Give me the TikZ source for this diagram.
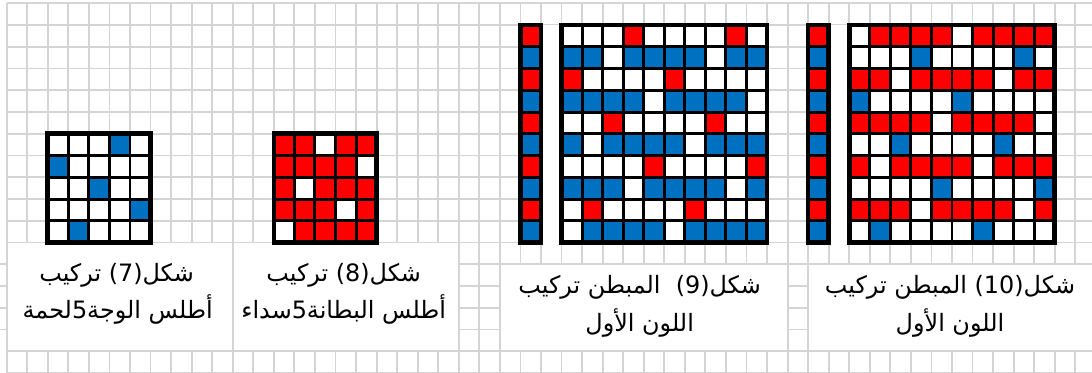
\documentclass[tikz,border=0pt]{standalone}
\usepackage{fontspec}
\usepackage{tikz}
\usepackage{xcolor}
\newfontfamily\arabicfont[Script=Arabic]{DejaVu Sans}
\TeXXeTstate=1
\definecolor{weavered}{HTML}{FF0000}
\definecolor{weaveblue}{HTML}{0070C0}
\definecolor{gridgray}{HTML}{D4D4D4}
\colorlet{c0}{white}
\colorlet{c1}{weaveblue}
\colorlet{c2}{weavered}

\begin{document}
\begin{tikzpicture}[x=0.51375cm,y=-0.54375cm,
  gridline/.style={draw=gridgray,line width=1.3pt},
  cell/.style={draw=black,line width=2.1pt},
  frame/.style={draw=black,line width=3.3pt},
  lab/.style={font=\arabicfont\fontsize{17}{20}\selectfont,anchor=base,inner sep=0pt}]
  \clip (-0.326,-0.1517) rectangle (52.8126,16.9517);
  \fill[white] (-0.326,-0.1517) rectangle (52.8126,16.9517);
  \foreach \k in {0,...,53} \draw[gridline] (\k,0) -- (\k,17);
  \foreach \j in {0,...,17} \draw[gridline] (0,\j) -- (53,\j);
  \draw[gridline,fill=white] (0,11) rectangle (11,16);
  \draw[gridline,fill=white] (11,11) rectangle (22,16);
  \draw[gridline,fill=white] (24,12) rectangle (38,16);
  \draw[gridline,fill=white] (39,12) rectangle (53,16);
  \foreach \j in {12,...,15} \draw[gridline] (-0.33,\j) -- (0,\j);
  \fill[white] (26,1) rectangle (27,11);
  \fill[white] (40,1) rectangle (41,11);

  \foreach \row [count=\j] in {{0,0,0,1,0},{1,0,0,0,0},{0,0,1,0,0},{0,0,0,0,1},{0,1,0,0,0}}
    \foreach \c [count=\i] in \row
      \draw[cell,fill=c\c] (1+\i,5+\j) rectangle ++(1,1);
  \draw[frame] (2,6) rectangle (7,11);

  \foreach \row [count=\j] in {{2,2,0,2,2},{2,2,2,2,0},{2,0,2,2,2},{2,2,2,0,2},{0,2,2,2,2}}
    \foreach \c [count=\i] in \row
      \draw[cell,fill=c\c] (12+\i,5+\j) rectangle ++(1,1);
  \draw[frame] (13,6) rectangle (18,11);

  \foreach \c [count=\j] in {2,1,2,1,2,1,2,1,2,1} {
    \draw[cell,fill=c\c] (25,\j) rectangle ++(1,1);
    \draw[cell,fill=c\c] (39,\j) rectangle ++(1,1);
  }
  \draw[frame] (25,1) rectangle (26,11);
  \draw[frame] (39,1) rectangle (40,11);

  \foreach \row [count=\j] in {{0,0,0,2,0,0,0,0,2,0},{1,1,0,1,1,1,1,0,1,1},
      {2,0,0,0,0,2,0,0,0,0},{1,1,1,1,0,1,1,1,1,0},{0,0,2,0,0,0,0,2,0,0},
      {1,0,1,1,1,1,0,1,1,1},{0,0,0,0,2,0,0,0,0,2},{1,1,1,0,1,1,1,1,0,1},
      {0,2,0,0,0,0,2,0,0,0},{0,1,1,1,1,0,1,1,1,1}}
    \foreach \c [count=\i] in \row
      \draw[cell,fill=c\c] (26+\i,\j) rectangle ++(1,1);
  \draw[frame] (27,1) rectangle (37,11);

  \foreach \row [count=\j] in {{0,2,2,2,2,0,2,2,2,2},{0,0,0,1,0,0,0,0,1,0},
      {2,2,0,2,2,2,2,0,2,2},{1,0,0,0,0,1,0,0,0,0},{2,2,2,2,0,2,2,2,2,0},
      {0,0,1,0,0,0,0,1,0,0},{2,0,2,2,2,2,0,2,2,2},{0,0,0,0,1,0,0,0,0,1},
      {2,2,2,0,2,2,2,2,0,2},{0,1,0,0,0,0,1,0,0,0}}
    \foreach \c [count=\i] in \row
      \draw[cell,fill=c\c] (40+\i,\j) rectangle ++(1,1);
  \draw[frame] (41,1) rectangle (51,11);

  \node[lab] (cap7a) at (5.35,12.77) {\beginR شكل(7) تركيب\endR};
  \node[lab] (cap7b) at (5.4,14.47) {\beginR أطلس الوجة5لحمة\endR};
  \node[lab] (cap8a) at (16.4,12.77) {\beginR شكل(8) تركيب\endR};
  \node[lab] (cap8b) at (16.4,14.47) {\beginR أطلس البطانة5سداء\endR};
  \node[lab] (cap9a) at (30.8,13.32) {\beginR شكل(9)~ المبطن تركيب\endR};
  \node[lab] (cap9b) at (30.8,15.07) {\beginR اللون الأول\endR};
  \node[lab] (cap10a) at (45.9,13.32) {\beginR شكل(10) المبطن تركيب\endR};
  \node[lab] (cap10b) at (45.9,15.07) {\beginR اللون الأول\endR};
\end{tikzpicture}
\end{document}
